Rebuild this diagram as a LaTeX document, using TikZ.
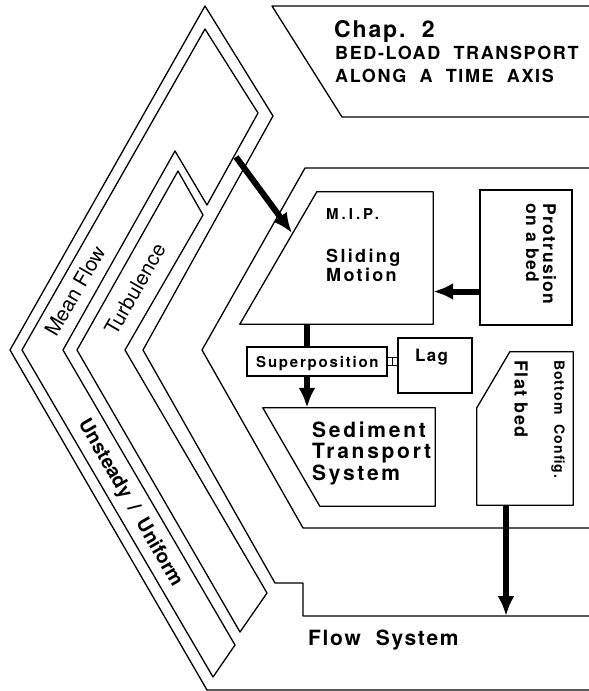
\documentclass[tikz,border=0pt]{standalone}
\usepackage{fontspec}
\setmainfont{TeX Gyre Heros}[LetterSpace=8]
\usetikzlibrary{arrows.meta,positioning}

\begin{document}
\begin{tikzpicture}[x=1pt, y=-1pt,
  outline/.style={line width=1.3pt, line join=round},
  boxarea/.style={rectangle, inner sep=0pt},
  boxline/.style={draw, line width=1.3pt},
  txt/.style={font=\bfseries\fontsize{18}{20}\selectfont, inner sep=0pt},
  widetxt/.style={font=\bfseries\fontsize{18}{20}\selectfont\addfontfeature{LetterSpace=13}, inner sep=0pt},
  bandtxt/.style={font=\fontsize{20.5}{22}\selectfont\addfontfeature{LetterSpace=0}, inner sep=0pt},
  fatarr/.style={line width=6pt, -{Latex[length=20pt,width=17pt]}}
]
  \useasboundingbox (0,0) rectangle (589,691);

  % chevron frames and bands
  \draw[outline] (589,690) -- (207,690) -- (10,350) -- (205,6) -- (273,116)
    -- (143,350) -- (275,583) -- (303,583) -- (303,616) -- (589,616);
  \draw[outline] (22,350) -- (205,29) -- (258,113) -- (207,205) -- (175,151)
    -- (63,350) -- (235,645) -- (213,677) -- cycle;
  \draw[outline] (77,350) -- (178,171) -- (203,215) -- (125,350) -- (267,593)
    -- (240,632) -- cycle;
  \draw[outline] (589,168) -- (305,168) -- (202,350) -- (303,528) -- (589,528);
  \draw[outline] (589,6) -- (272,6) -- (342,117) -- (589,117);

  % boxes
  \node[boxarea, minimum width=193pt, minimum height=132pt] (mip) at (336.5,258) {};
  \node[boxarea, boxline, minimum width=92pt, minimum height=135pt] (prot) at (526,257.5) {};
  \node[boxarea, boxline, fill=white, minimum width=140pt, minimum height=29pt] (sup) at (317,361.5) {};
  \node[boxarea, boxline, minimum width=74pt, minimum height=55pt] (lag) at (435,365.5) {};
  \node[boxarea, minimum width=172pt, minimum height=98pt] (sed) at (349,457) {};
  \node[boxarea, minimum width=96pt, minimum height=153pt] (bcfg) at (525,428.5) {};
  \draw[outline] ([xshift=77pt]mip.north west) -- (mip.north east) -- (mip.south east)
    -- (mip.south west) -- cycle;
  \draw[outline] (sed.north west) -- (sed.north east) -- (sed.south east)
    -- ([xshift=57pt]sed.south west) -- cycle;
  \draw[outline] ([xshift=33pt]bcfg.north west) -- (bcfg.north east) -- (bcfg.south east)
    -- (bcfg.south west) -- ([yshift=-56pt]bcfg.north west) -- cycle;

  % texts
  \node[txt, font=\bfseries\fontsize{23}{25}\selectfont, anchor=base west] (chap) at (334,37) {Chap.\ \ 2};
  \node[txt, font=\bfseries\fontsize{18}{20}\selectfont\addfontfeature{LetterSpace=9},
    anchor=base west] (chapa) at (335,59.5) {BED-LOAD\ \ TRANSPORT};
  \node[txt, font=\bfseries\fontsize{18}{20}\selectfont\addfontfeature{LetterSpace=9},
    anchor=base west] (chapb) at (335,82) {ALONG\ \ A\ \ TIME\ \ AXIS};
  \node[txt, font=\bfseries\fontsize{15}{17}\selectfont\addfontfeature{LetterSpace=20},
    anchor=base west] (mipname) at (326,219.5) {M.I.P.};
  \node[widetxt, anchor=base west] (mipslide) at (326,262) {Sliding};
  \node[widetxt, anchor=base west] (mipmotion) at (326,281) {Motion};
  \node[txt, font=\bfseries\fontsize{17.5}{17}\selectfont, rotate=-90, align=left]
    (prottext) at (541,254) {Protrusion\\on a bed};
  \node[txt, font=\bfseries\fontsize{15}{17}\selectfont\addfontfeature{LetterSpace=12},
    anchor=base west] (suptext) at (256,367) {Superposition};
  \node[txt, font=\bfseries\fontsize{17}{19}\selectfont, anchor=base west] (lagtext) at (415,361) {Lag};
  \node[txt, font=\bfseries\fontsize{21}{21.5}\selectfont\addfontfeature{LetterSpace=13}, anchor=base west]
    (sedone) at (312,437) {Sediment};
  \node[txt, font=\bfseries\fontsize{21}{21.5}\selectfont\addfontfeature{LetterSpace=13}, anchor=base west]
    (sedtwo) at (312,458.5) {Transport};
  \node[txt, font=\bfseries\fontsize{21}{21.5}\selectfont\addfontfeature{LetterSpace=13}, anchor=base west]
    (sedthree) at (312,480) {System};
  \node[txt, font=\bfseries\fontsize{14}{16}\selectfont, rotate=-90, anchor=west]
    (bcfgname) at (558,360) {Bottom\ \ Config.};
  \node[txt, rotate=-90, anchor=west] (flatbed) at (521,360) {Flat bed};
  \node[txt, font=\bfseries\fontsize{21}{23}\selectfont, anchor=base west] (flowtext) at (308,645) {Flow\ \ System};
  \node[bandtxt, rotate=60] (meanflow) at (75,291) {Mean Flow};
  \node[bandtxt, rotate=60] (turb) at (135,289) {Turbulence};
  \node[bandtxt, font=\bfseries\fontsize{19.5}{22}\selectfont\addfontfeature{LetterSpace=0}, rotate=-60]
    (unsteady) at (130,503) {Unsteady\ \ /\ \ Uniform};

  % connectors
  \coordinate (mfcap) at (236,157);
  \coordinate (mipedge) at (292,233);
  \coordinate (mipdrop) at ([xshift=-29.5pt]mip.south);
  \coordinate (flowtop) at (506,616);
  \draw[fatarr] (mfcap) -- (mipedge);
  \draw[fatarr] ([yshift=-34pt]prot.west) -- ([yshift=-34pt]prot.west -| mip.east);
  \draw[line width=6pt] (mipdrop) -- (mipdrop |- sup.north);
  \draw[fatarr] (mipdrop |- sup.south) -- (mipdrop |- sed.north);
  \draw[fatarr] ([xshift=-19pt]bcfg.south) -- (flowtop);
  \draw[line width=1.3pt] ([yshift=4pt]sup.east) -- ([yshift=4pt]sup.east -| lag.west);
  \draw[line width=1.3pt] ([yshift=-4pt]sup.east) -- ([yshift=-4pt]sup.east -| lag.west);
  \draw[line width=1.3pt] ([xshift=5pt,yshift=4pt]sup.east) -- ([xshift=5pt,yshift=-4pt]sup.east);
\end{tikzpicture}
\end{document}
